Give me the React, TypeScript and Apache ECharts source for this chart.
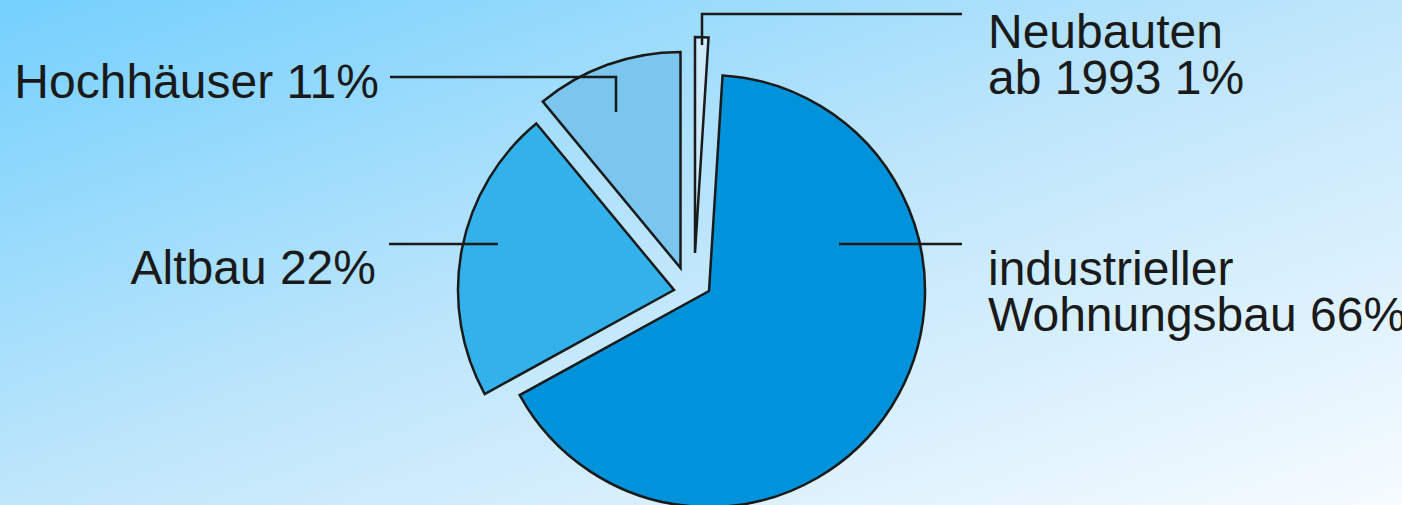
import React, { useEffect, useRef } from "react";
import * as echarts from "echarts";

// Data (clockwise from 12 o'clock)
const categories = ["Neubauten ab 1993", "industrieller Wohnungsbau", "Altbau", "Hochhäuser"];
const values = [1, 66, 22, 11];
const labelLines = [
  ["Neubauten", "ab 1993 1%"],
  ["industrieller", "Wohnungsbau 66%"],
  ["Altbau 22%"],
  ["Hochhäuser 11%"],
];
const sliceColors = ["#cdebfb", "#0093dc", "#33b1ea", "#7ac6ef"];
// exploded slice centres (px)
const sliceCenters = [[695, 253], [709, 291], [674, 290], [680.5, 268]];

const INK = "#1a1a1a";
const FONT = "'Liberation Sans', Arial, Helvetica, sans-serif";
const FS = 48;
const LH = 46.5;

export default function App() {
  const ref = useRef<HTMLDivElement>(null);
  useEffect(() => {
    if (!ref.current) return;
    const chart = echarts.init(ref.current, null, { renderer: "svg" });
    const series = categories.map((_, si) => ({
      type: "pie",
      name: categories[si],
      silent: true,
      center: sliceCenters[si],
      radius: 216,
      startAngle: 90,
      clockwise: true,
      avoidLabelOverlap: false,
      label: { show: false },
      labelLine: { show: false },
      emphasis: { disabled: true },
      z: si === 0 ? 5 : 2,
      data: categories.map((name, j) => ({
        name,
        value: values[j],
        itemStyle:
          j === si
            ? { color: sliceColors[j], borderColor: INK, borderWidth: 2.5, borderJoin: "miter" }
            : { color: "rgba(0,0,0,0)", borderWidth: 0 },
      })),
    }));

    const texts = (lines: string[], x: number, y: number, align: string) =>
      lines.map((text, k) => ({
        type: "text",
        x,
        y: y + k * LH,
        silent: true,
        z: 10,
        style: {
          text,
          fill: INK,
          font: `${FS}px ${FONT}`,
          align,
          verticalAlign: "middle",
        },
      }));
    const line = (points: number[][]) => ({
      type: "polyline",
      silent: true,
      z: 20,
      shape: { points },
      style: { stroke: INK, lineWidth: 2.5, fill: null },
    });

    chart.setOption({
      animation: false,
      backgroundColor: {
        type: "linear",
        x: 0,
        y: 0,
        x2: 1,
        y2: 1,
        colorStops: [
          { offset: 0, color: "#74d0fd" },
          { offset: 0.5, color: "#bfe6fb" },
          { offset: 1, color: "#f6fbff" },
        ],
      },
      series,
      graphic: [
        ...texts(labelLines[3], 379, 81, "right"),
        ...texts(labelLines[2], 376, 267, "right"),
        ...texts(labelLines[1], 988, 268, "left"),
        ...texts(labelLines[0], 988, 31, "left"),
        line([[390, 77], [616, 77], [616, 112]]),
        line([[389, 244], [498, 244]]),
        line([[839, 244], [962, 244]]),
        line([[702, 45], [702, 14], [962, 14]]),
      ],
    });
    return () => chart.dispose();
  }, []);
  return (
    <div
      ref={ref}
      style={{ position: "fixed", left: 0, top: 0, width: 1402, height: 505 }}
    />
  );
}
